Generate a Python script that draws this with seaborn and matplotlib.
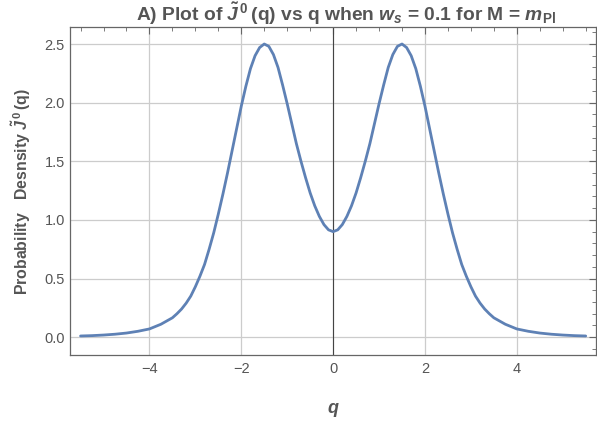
"""
Mathematica 风格的双峰概率密度曲线 (seaborn 重绘)
"""

import numpy as np
import pandas as pd
import matplotlib
matplotlib.use("Agg")
import matplotlib.pyplot as plt
import seaborn as sns
from matplotlib.ticker import MultipleLocator

# 数据
q_values = [-5.5, -5.25, -5.0, -4.75, -4.5, -4.25, -4.0, -3.75, -3.5,
            -3.4, -3.3, -3.2, -3.1, -3.0, -2.9, -2.8, -2.7, -2.6, -2.5,
            -2.4, -2.3, -2.2, -2.1, -2.0, -1.9, -1.8, -1.7, -1.6, -1.5,
            -1.4, -1.3, -1.2, -1.1, -1.0, -0.9, -0.8, -0.7, -0.6, -0.5,
            -0.4, -0.3, -0.2, -0.1, 0.0,
            0.1, 0.2, 0.3, 0.4, 0.5, 0.6, 0.7, 0.8, 0.9, 1.0,
            1.1, 1.2, 1.3, 1.4, 1.5, 1.6, 1.7, 1.8, 1.9, 2.0,
            2.1, 2.2, 2.3, 2.4, 2.5, 2.6, 2.7, 2.8, 2.9, 3.0,
            3.1, 3.2, 3.3, 3.4, 3.5, 3.75, 4.0, 4.25, 4.5, 4.75,
            5.0, 5.25, 5.5]
density = [0.010, 0.013, 0.018, 0.025, 0.035, 0.050, 0.070, 0.110, 0.165,
           0.20, 0.24, 0.29, 0.35, 0.43, 0.52, 0.62, 0.75, 0.89, 1.05,
           1.22, 1.40, 1.59, 1.78, 1.97, 2.14, 2.29, 2.40, 2.47, 2.50,
           2.48, 2.41, 2.30, 2.15, 1.99, 1.82, 1.65, 1.50, 1.36, 1.23,
           1.12, 1.03, 0.96, 0.915, 0.90,
           0.915, 0.96, 1.03, 1.12, 1.23, 1.36, 1.50, 1.65, 1.82, 1.99,
           2.15, 2.30, 2.41, 2.48, 2.50, 2.47, 2.40, 2.29, 2.14, 1.97,
           1.78, 1.59, 1.40, 1.22, 1.05, 0.89, 0.75, 0.62, 0.52, 0.43,
           0.35, 0.29, 0.24, 0.20, 0.165, 0.110, 0.070, 0.050, 0.035, 0.025,
           0.018, 0.013, 0.010]

x_major = [-4, -2, 0, 2, 4]
y_major = [0.0, 0.5, 1.0, 1.5, 2.0, 2.5]

LINE_COLOR = "#5E81B5"
TEXT_COLOR = "#555555"
FRAME_COLOR = "#666666"
GRID_COLOR = "#cccccc"

sns.set_theme(style="white")
plt.rcParams["font.family"] = ["Liberation Sans", "DejaVu Sans"]
plt.rcParams["mathtext.fontset"] = "custom"
plt.rcParams["mathtext.rm"] = "Liberation Sans:bold"
plt.rcParams["mathtext.it"] = "Liberation Sans:italic:bold"
plt.rcParams["mathtext.bf"] = "Liberation Sans:bold"

df = pd.DataFrame({"q": q_values, "density": density})

fig = plt.figure(figsize=(5.97, 4.22), dpi=100)
ax = fig.add_axes([0.118, 0.158, 0.880, 0.778])

# 网格线
for xv in x_major:
    ax.axvline(xv, color=GRID_COLOR, lw=0.9, zorder=0)
for yv in y_major:
    ax.axhline(yv, color=GRID_COLOR, lw=0.9, zorder=0)
# 坐标轴 (x=0)
ax.axvline(0, color="#444444", lw=0.8, zorder=1)

sns.lineplot(data=df, x="q", y="density", ax=ax, color=LINE_COLOR, lw=2, zorder=3)

ax.set_xlim(-5.72, 5.72)
ax.set_ylim(-0.155, 2.645)

ax.xaxis.set_major_locator(MultipleLocator(2))
ax.xaxis.set_minor_locator(MultipleLocator(0.5))
ax.yaxis.set_major_locator(MultipleLocator(0.5))
ax.yaxis.set_minor_locator(MultipleLocator(0.1))
ax.set_xticks(x_major)
ax.set_yticks(y_major)
ax.set_yticklabels([f"{v:.1f}" for v in y_major])

ax.tick_params(which="both", direction="in", top=True, right=True,
               color=FRAME_COLOR, labelcolor=TEXT_COLOR, labelsize=10.5)
ax.tick_params(which="major", length=5, width=0.8)
ax.tick_params(which="minor", length=3, width=0.6)
ax.tick_params(axis="x", which="major", pad=5)
ax.tick_params(axis="y", which="major", pad=4)

for sp in ax.spines.values():
    sp.set_color(FRAME_COLOR)
    sp.set_linewidth(0.9)

# 标题 (参考图中略偏右)
fig.text(0.58, 0.951,
         r"A) Plot of $\tilde{J}^{\,0}\,$(q) vs q when $w_s$ = 0.1 for M = $m_{\mathrm{Pl}}$",
         ha="center", va="baseline", fontsize=13.9, fontweight="bold", color=TEXT_COLOR)
ax.set_xlabel(r"$q$", fontsize=13, color=TEXT_COLOR, labelpad=18)
ax.set_ylabel(r"Probability   Desnsity $\tilde{J}^{\,0}\,$(q)", fontsize=11.4,
              fontweight="bold", color=TEXT_COLOR, labelpad=8)

fig.savefig("out.png", dpi=100)
plt.close(fig)
